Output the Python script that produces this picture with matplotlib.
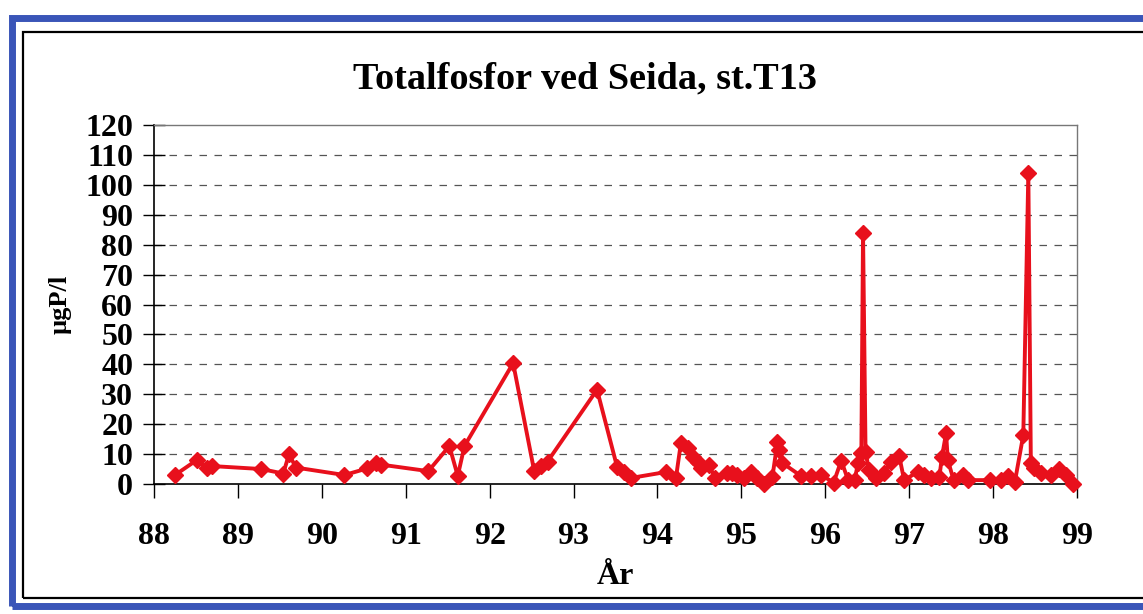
import matplotlib
matplotlib.use("Agg")
import matplotlib.pyplot as plt
from matplotlib.patches import Rectangle

years = [88.25, 88.51, 88.63, 88.69, 89.28, 89.54, 89.61, 89.69, 90.27, 90.54,
         90.64, 90.70, 91.27, 91.52, 91.62, 91.70, 92.28, 92.53, 92.61, 92.69,
         93.28, 93.52, 93.60, 93.68, 94.10, 94.22, 94.28, 94.36, 94.42, 94.48,
         94.52, 94.61, 94.69, 94.83, 94.89, 94.95, 95.03, 95.11, 95.19, 95.27,
         95.37, 95.43, 95.45, 95.49, 95.71, 95.83, 95.95, 96.10, 96.19, 96.27,
         96.35, 96.39, 96.43, 96.45, 96.48, 96.52, 96.60, 96.70, 96.78, 96.88,
         96.94, 97.10, 97.18, 97.26, 97.36, 97.39, 97.44, 97.46, 97.53, 97.64,
         97.70, 97.96, 98.10, 98.18, 98.26, 98.36, 98.42, 98.45, 98.49, 98.57,
         98.69, 98.79, 98.87, 98.95]
tot_p = [3, 8, 5.4, 6, 5, 3.5, 10, 5.5, 3, 5.2,
         6.9, 6.5, 4.3, 12.7, 2.7, 12.7, 40.4, 4.5, 6, 7.5,
         31.5, 5.6, 4.1, 2, 4, 2, 13.8, 12, 9, 7.5,
         5.2, 6.4, 2, 3.6, 3.6, 3, 2, 4, 2, 0,
         2.4, 14, 11.4, 7, 2.7, 2.7, 3, 0.5, 7.8, 1.5,
         1.3, 7, 10.3, 84, 10.8, 4.7, 1.9, 3.6, 7.5, 9.5,
         1.3, 4, 3, 1.9, 2.4, 9, 17, 8, 1.3, 3,
         1.3, 1.3, 1.3, 2.7, 0.8, 16.4, 104, 6.9, 5.2, 3.6,
         3, 5, 3, 0]

xticks = list(range(88, 100))
yticks = list(range(0, 130, 10))

plt.rcParams['font.family'] = ['Liberation Serif', 'DejaVu Serif']

fig = plt.figure(figsize=(11.43, 6.14), dpi=100)
W, H = 1143, 614

# scan frames
fig.patches.append(Rectangle((12 / W, 8 / H), 1.2, 1 - 26 / H, transform=fig.transFigure,
                             fill=False, edgecolor='#3a55b8', linewidth=5))
fig.patches.append(Rectangle((23 / W, 16 / H), 1.2, 1 - 48 / H, transform=fig.transFigure,
                             fill=False, edgecolor='black', linewidth=1.6))

ax = fig.add_axes([154 / W, 1 - 484 / H, (1077 - 154) / W, (484 - 125) / H])
ax.plot(years, tot_p, color='#e8101c', linewidth=2.8, marker='D', markersize=8.5,
        markeredgecolor='#e8101c', markerfacecolor='#e8101c', clip_on=False, zorder=3)

ax.set_xlim(88, 99)
ax.set_ylim(0, 120)
ax.set_xticks(xticks)
ax.set_yticks(yticks)
ax.set_xticklabels([str(t) for t in xticks], fontsize=23, fontweight='bold')
ax.set_yticklabels([str(t) for t in yticks], fontsize=23, fontweight='bold')
ax.tick_params(axis='x', direction='out', length=10, width=1, pad=17)
ax.tick_params(axis='y', direction='inout', length=16, width=1, pad=7)

for v in yticks[1:-1]:
    ax.axhline(v, color='#555555', linewidth=0.9, linestyle=(0, (6, 6)), zorder=1)

for s in ['top', 'right']:
    ax.spines[s].set_color('#777777')
    ax.spines[s].set_linewidth(1)
for s in ['left', 'bottom']:
    ax.spines[s].set_color('black')
    ax.spines[s].set_linewidth(1.2)

ax.set_xlabel('År', fontsize=23, fontweight='bold', labelpad=8)
ax.set_ylabel('µgP/l', fontsize=19, fontweight='bold', labelpad=10)

fig.text(585 / W, 1 - 79 / H, 'Totalfosfor ved Seida, st.T13', ha='center', va='center',
         fontsize=27.5, fontweight='bold')

fig.savefig('out.png', dpi=100)
